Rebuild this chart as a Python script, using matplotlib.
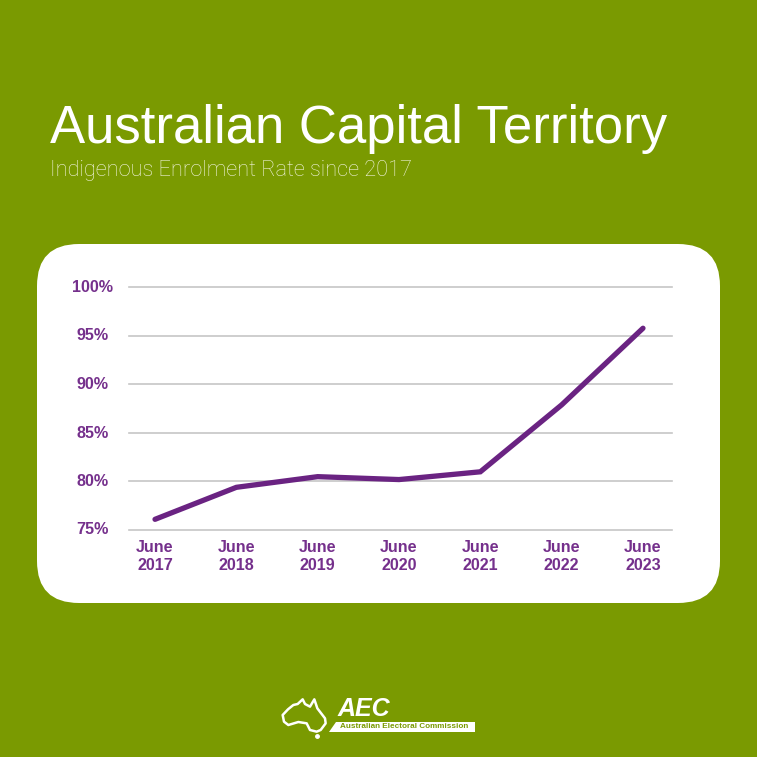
import matplotlib
matplotlib.use("Agg")
import matplotlib.pyplot as plt
from matplotlib.patches import FancyBboxPatch, Polygon

years = ["June\n2017", "June\n2018", "June\n2019", "June\n2020", "June\n2021", "June\n2022", "June\n2023"]
rate = [76.1, 79.4, 80.5, 80.2, 81.0, 87.9, 95.8]
ticks = [75, 80, 85, 90, 95, 100]

GREEN = "#7a9a01"
PURPLE = "#75308c"
LINE = "#6a2382"

plt.rcParams["font.family"] = ["Liberation Sans", "DejaVu Sans"]

W = 757
fig = plt.figure(figsize=(W / 100, W / 100), dpi=100, facecolor=GREEN)

# background layer in pixel coordinates
bg = fig.add_axes([0, 0, 1, 1])
bg.set_xlim(0, W)
bg.set_ylim(W, 0)
bg.axis("off")

bg.add_patch(FancyBboxPatch((37 + 33, 244 + 33), 683 - 66, 359 - 66,
                            boxstyle="round,pad=33,rounding_size=42",
                            fc="white", ec="none"))

bg.text(50, 143, "Australian Capital Territory", color="white", fontsize=38,
        family=["Liberation Sans"], va="baseline", ha="left")
bg.text(50, 176, "Indigenous Enrolment Rate since 2017", color="#f0f3dc", fontsize=15.7,
        family=["Roboto"], fontweight="light", va="baseline", ha="left")

# logo
outline = [(68, 105), (84, 88), (100, 75), (113, 72), (128, 58), (135, 72), (150, 80),
           (163, 58), (172, 85), (195, 115), (197, 130), (182, 150), (170, 155), (150, 150),
           (140, 130), (115, 126), (85, 135), (72, 125)]
bg.add_patch(Polygon([(260 + x / 3, 680 + y / 3) for x, y in outline], closed=True,
                     fc="none", ec="white", lw=1.8, joinstyle="round"))
bg.plot([260 + 170 / 3], [680 + 168 / 3], "o", color="white", ms=2.5)
bg.text(338, 709, "AEC", color="white", fontsize=18, fontweight="bold", style="italic",
        family=["Liberation Sans"], va="center", ha="left")
banner = [(228, 125), (645, 125), (645, 155), (208, 155)]
bg.add_patch(Polygon([(260 + x / 3, 680 + y / 3) for x, y in banner], closed=True, fc="white", ec="none"))
bg.text(340, 726.3, "Australian Electoral Commission", color=GREEN, fontsize=5.9, fontweight="bold",
        va="center", ha="left")

# chart
left, right, top, bottom = 129, 672, 287.5, 530
ax = fig.add_axes([left / W, 1 - bottom / W, (right - left) / W, (bottom - top) / W])
ax.patch.set_alpha(0)
pos = list(range(len(years)))
step = 81.3
ax.set_xlim(-26 / step, 6 + 29 / step)
ax.set_ylim(75, 100)
ax.yaxis.grid(True, color="#c6c6c6", lw=1.2)
ax.set_axisbelow(True)
ax.plot(pos, rate, color=LINE, lw=3.8, solid_capstyle="round", solid_joinstyle="miter", clip_on=False)
for s in ax.spines.values():
    s.set_visible(False)
ax.set_yticks(ticks)
ax.set_yticklabels([f"{t}%" for t in ticks])
ax.set_xticks(pos)
ax.set_xticklabels(years, linespacing=1.3)
ax.tick_params(axis="both", length=0, labelcolor=PURPLE, labelsize=11.6)
ax.tick_params(axis="x", pad=7)
# y labels are centred on one another, not right aligned
ax.tick_params(axis="y", pad=26)
for lab in ax.get_xticklabels():
    lab.set_fontweight("bold")
for lab in ax.get_yticklabels():
    lab.set_fontweight("bold")
    lab.set_horizontalalignment("center")
    lab.set_verticalalignment("center")
for gl in ax.get_ygridlines():
    gl.set_clip_on(False)

fig.savefig("out.png", dpi=100, facecolor=GREEN)
